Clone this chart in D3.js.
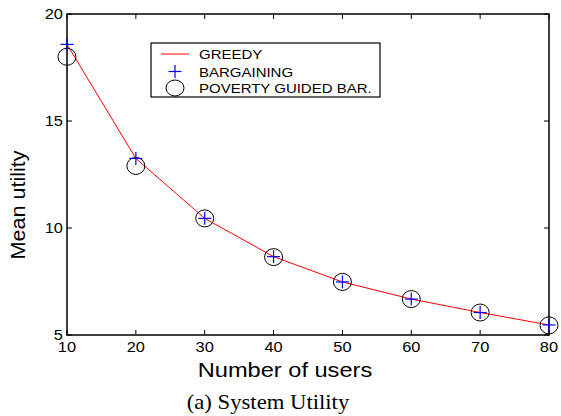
<!DOCTYPE html>
<html><head><meta charset="utf-8">
<script src="https://d3js.org/d3.v7.min.js"></script>
<style>body{margin:0;background:#fff}svg{display:block}</style>
</head><body>
<script>
const users = [10, 20, 30, 40, 50, 60, 70, 80];
const greedy = [18.58, 13.25, 10.45, 8.66, 7.48, 6.68, 6.05, 5.47];
const bargaining = [18.58, 13.25, 10.45, 8.66, 7.48, 6.68, 6.05, 5.47];
const poverty = [18.0, 12.9, 10.45, 8.64, 7.48, 6.68, 6.05, 5.45];
const xTicks = [10, 20, 30, 40, 50, 60, 70, 80];
const yTicks = [5, 10, 15, 20];
const legendLabels = ["GREEDY", "BARGAINING", "POVERTY GUIDED BAR."];

const W = 561, H = 416;
const m = {l: 67, r: 549, t: 14, b: 335};
const svg = d3.select("body").append("svg").attr("width", W).attr("height", H);
const x = d3.scaleLinear().domain([10, 80]).range([m.l, m.r]);
const y = d3.scaleLinear().domain([5, 20]).range([m.b, m.t]);
const font = "'Liberation Sans', Arial, Helvetica, sans-serif";

// horizontally stretch text (reference glyphs are wider than the font)
function stretch(sel, f) {
  sel.each(function() {
    const w = this.getComputedTextLength();
    d3.select(this).attr("textLength", w * f).attr("lengthAdjust", "spacingAndGlyphs");
  });
}

// ticks inside (all sides)
const tl = 5;
const gAx = svg.append("g").attr("stroke", "#000").attr("stroke-width", 1);
xTicks.forEach(t => {
  gAx.append("line").attr("x1", x(t)).attr("x2", x(t)).attr("y1", m.b).attr("y2", m.b - tl);
  gAx.append("line").attr("x1", x(t)).attr("x2", x(t)).attr("y1", m.t).attr("y2", m.t + tl);
});
yTicks.forEach(t => {
  gAx.append("line").attr("y1", y(t)).attr("y2", y(t)).attr("x1", m.l).attr("x2", m.l + tl);
  gAx.append("line").attr("y1", y(t)).attr("y2", y(t)).attr("x1", m.r).attr("x2", m.r - tl);
});
svg.append("rect").attr("x", m.l).attr("y", m.t).attr("width", m.r - m.l).attr("height", m.b - m.t)
  .attr("fill", "none").attr("stroke", "#000").attr("stroke-width", 1.5);

// tick labels
stretch(svg.append("g").selectAll("text").data(xTicks).join("text")
  .attr("x", d => x(d)).attr("y", m.b + 17).attr("text-anchor", "middle")
  .attr("font-family", font).attr("font-size", 14.5).text(d => d), 1.13);
stretch(svg.append("g").selectAll("text").data(yTicks).join("text")
  .attr("x", m.l - 4).attr("y", d => y(d) + 5).attr("text-anchor", "end")
  .attr("font-family", font).attr("font-size", 14.5).text(d => d), 1.13);

// axis titles
stretch(svg.append("text").attr("x", 285).attr("y", 377).attr("text-anchor", "middle")
  .attr("font-family", font).attr("font-size", 20).text("Number of users"), 1.18);
stretch(svg.append("text").attr("transform", "translate(25,205) rotate(-90)").attr("text-anchor", "middle")
  .attr("font-family", font).attr("font-size", 20).text("Mean utility"), 1.08);
stretch(svg.append("text").attr("x", 268).attr("y", 409).attr("text-anchor", "middle")
  .attr("font-family", "'Liberation Serif', 'Times New Roman', serif").attr("font-size", 21).text("(a) System Utility"), 1.08);

// data
const line = d3.line().x((d, i) => x(users[i])).y(d => y(d));
svg.append("path").datum(greedy).attr("d", line).attr("fill", "none").attr("stroke", "#ff0000").attr("stroke-width", 1);
svg.append("g").selectAll("ellipse").data(poverty).join("ellipse")
  .attr("cx", (d, i) => x(users[i])).attr("cy", d => y(d)).attr("rx", 9).attr("ry", 8.5)
  .attr("fill", "none").attr("stroke", "#000").attr("stroke-width", 1);
const ps = 6.5;
const gp = svg.append("g").attr("stroke", "#0000ff").attr("stroke-width", 1.2);
bargaining.forEach((d, i) => {
  const cx = x(users[i]), cy = y(d);
  gp.append("line").attr("x1", cx - ps).attr("x2", cx + ps).attr("y1", cy).attr("y2", cy);
  gp.append("line").attr("x1", cx).attr("x2", cx).attr("y1", cy - ps).attr("y2", cy + ps);
});

// legend
const lg = svg.append("g");
lg.append("rect").attr("x", 151).attr("y", 43).attr("width", 229).attr("height", 54)
  .attr("fill", "#fff").attr("stroke", "#000").attr("stroke-width", 1.2);
const rows = [54, 71.5, 88];
lg.append("line").attr("x1", 161).attr("x2", 189).attr("y1", rows[0]).attr("y2", rows[0]).attr("stroke", "#ff0000");
lg.append("line").attr("x1", 175 - ps).attr("x2", 175 + ps).attr("y1", rows[1]).attr("y2", rows[1]).attr("stroke", "#0000ff").attr("stroke-width", 1.2);
lg.append("line").attr("x1", 175).attr("x2", 175).attr("y1", rows[1] - ps).attr("y2", rows[1] + ps).attr("stroke", "#0000ff").attr("stroke-width", 1.2);
lg.append("ellipse").attr("cx", 175).attr("cy", rows[2]).attr("rx", 9).attr("ry", 8).attr("fill", "none").attr("stroke", "#000");
stretch(lg.selectAll("text.l").data(legendLabels).join("text").attr("class", "l")
  .attr("x", 199).attr("y", (d, i) => rows[i] + 5).attr("font-family", font).attr("font-size", 13.5).text(d => d), 1.11);
</script>
</body></html>
